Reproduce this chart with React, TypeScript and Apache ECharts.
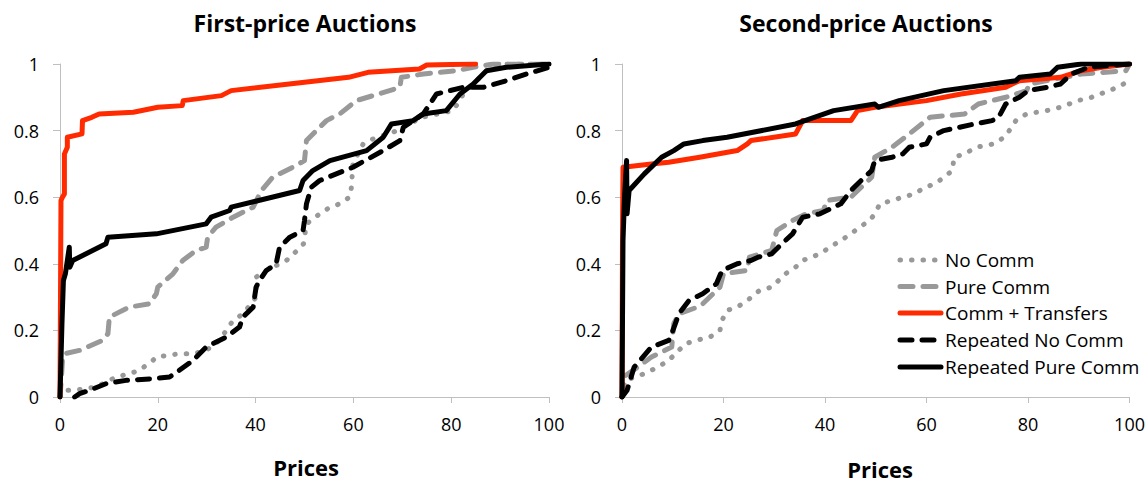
import React, { useEffect, useRef } from "react";
import * as echarts from "echarts";

// ---------- data (price, cumulative share) ----------
const legendNames = [
  "No Comm",
  "Pure Comm",
  "Comm + Transfers",
  "Repeated No Comm",
  "Repeated Pure Comm",
];
const panelTitles = ["First-price Auctions", "Second-price Auctions"];
const xAxisTitle = "Prices";

const fpNoComm = [[0,0],[1,0.02],[3,0.02],[7.4,0.03],[11.5,0.06],[14.2,0.07],[16.2,0.08],[19,0.11],[19.7,0.12],[24.4,0.13],[27.2,0.13],[29.9,0.14],[32.6,0.17],[35.4,0.23],[37.5,0.25],[40.1,0.3],[40.1,0.36],[42.2,0.38],[46.3,0.41],[47.8,0.43],[49.8,0.46],[50.4,0.52],[53.1,0.55],[55.2,0.57],[57.2,0.58],[59.2,0.6],[59.6,0.63],[59.9,0.7],[62,0.76],[64.7,0.78],[67.4,0.79],[70.2,0.81],[74,0.84],[80.4,0.86],[82.5,0.91],[83.8,0.93],[86.6,0.97],[88,0.99],[90,1],[100,1]];
const fpPureComm = [[0,0],[0.3,0.06],[0.5,0.11],[0.9,0.13],[4,0.14],[8.7,0.17],[9.8,0.19],[10.1,0.24],[14.2,0.27],[18.3,0.28],[19.7,0.31],[20,0.33],[23.1,0.37],[25.1,0.41],[27.8,0.44],[29.9,0.45],[30.2,0.48],[31.9,0.51],[35.4,0.54],[39.5,0.57],[41.2,0.62],[43.5,0.66],[47.6,0.69],[50,0.71],[50.4,0.77],[52.4,0.8],[54.5,0.83],[57.2,0.85],[60.6,0.89],[67.4,0.92],[69.5,0.93],[69.8,0.96],[74.3,0.97],[81.1,0.98],[84.5,0.99],[88.6,1],[100,1]];
const fpCommTransfers = [[0,0],[0.1,0.3],[0.2,0.59],[0.5,0.6],[0.9,0.61],[0.9,0.73],[1.5,0.75],[1.5,0.78],[4.5,0.79],[4.6,0.83],[6.5,0.84],[8,0.85],[15,0.855],[20,0.87],[25,0.875],[25.2,0.89],[33,0.905],[35,0.92],[50,0.945],[59,0.96],[63,0.975],[73.5,0.985],[75,0.997],[85,1]];
const fpRepNoComm = [[3,0],[4,0.01],[6,0.02],[9.4,0.04],[13.5,0.05],[19,0.055],[22.4,0.06],[24.4,0.08],[27.2,0.11],[29.9,0.15],[34,0.18],[36.7,0.21],[37.4,0.24],[39.5,0.27],[40.1,0.33],[40.8,0.35],[42.2,0.38],[44.2,0.4],[44.9,0.45],[47,0.48],[49.7,0.5],[50,0.53],[50.4,0.58],[51.4,0.63],[53.1,0.65],[59.9,0.69],[66.1,0.74],[69.5,0.77],[70.2,0.81],[74.3,0.85],[77,0.91],[82.5,0.93],[86.6,0.93],[91.3,0.95],[95.4,0.97],[100,0.99]];
const fpRepPureComm = [[0,0],[0.4,0.22],[0.7,0.35],[1.1,0.37],[1.9,0.45],[2,0.39],[2.6,0.41],[9.4,0.46],[9.8,0.48],[19.7,0.49],[29.9,0.52],[30.9,0.54],[34.7,0.56],[35,0.57],[49,0.62],[49.7,0.65],[51.7,0.68],[55.2,0.71],[62.7,0.74],[66.1,0.78],[67.8,0.82],[72.2,0.83],[74.3,0.85],[79,0.86],[81.8,0.91],[84.5,0.94],[87.2,0.98],[91.3,0.99],[100,1]];

const spNoComm = [[0,0],[0.7,0.05],[4.4,0.07],[7.1,0.09],[9.2,0.11],[12.5,0.16],[14.6,0.17],[17.3,0.18],[19.3,0.2],[19.7,0.23],[20.7,0.26],[22.7,0.27],[24.7,0.29],[27.1,0.32],[29.5,0.33],[32.2,0.37],[34.2,0.39],[35.6,0.41],[39,0.43],[41,0.45],[43.1,0.47],[45.1,0.49],[46.8,0.51],[48.8,0.53],[49.8,0.55],[50.8,0.58],[53.2,0.59],[55.3,0.6],[57.6,0.61],[59.7,0.63],[61.7,0.64],[63.4,0.66],[65.1,0.68],[65.4,0.72],[67.5,0.73],[69.8,0.75],[73.2,0.76],[75.3,0.78],[76.3,0.8],[77.6,0.83],[79.7,0.85],[83.7,0.86],[86.4,0.87],[89.8,0.89],[92.5,0.9],[94.2,0.91],[96.1,0.92],[98.8,0.94],[100,0.95]];
const spPureComm = [[0,0],[0.3,0.06],[3.1,0.09],[5.8,0.12],[9.8,0.15],[10.2,0.22],[11.2,0.25],[14.9,0.27],[15.9,0.28],[19.3,0.33],[20,0.37],[24.7,0.38],[25.1,0.42],[29.5,0.44],[30.5,0.5],[33.6,0.53],[36.3,0.55],[39.7,0.56],[40.3,0.59],[45.1,0.6],[47.8,0.64],[49.2,0.66],[49.8,0.72],[53.2,0.75],[56.6,0.79],[60.7,0.84],[67.5,0.85],[70.2,0.88],[75.6,0.9],[79.7,0.92],[80.3,0.94],[83.7,0.95],[90.5,0.97],[99.3,0.98],[100,1]];
const spCommTransfers = [[0,0],[0.1,0.5],[0.2,0.69],[0.3,0.69],[5.8,0.7],[9.2,0.705],[15.3,0.72],[22.7,0.74],[24.7,0.76],[25.4,0.77],[34.2,0.79],[35.6,0.83],[45.1,0.83],[46.4,0.86],[49.8,0.87],[60,0.89],[66.8,0.91],[75.6,0.93],[78.3,0.95],[86.4,0.96],[90.5,0.98],[94.6,0.99],[100,1]];
const spRepNoComm = [[0,0],[1,0.02],[2.4,0.09],[5.8,0.15],[9.2,0.17],[9.8,0.19],[11.2,0.25],[13.2,0.29],[15.9,0.31],[18.6,0.34],[19.7,0.38],[22.7,0.4],[25.4,0.41],[26.8,0.42],[29.5,0.43],[30.8,0.45],[33.6,0.49],[35.6,0.54],[39,0.55],[43.1,0.58],[45.1,0.62],[47.1,0.65],[49.2,0.68],[49.8,0.71],[53.2,0.72],[55.3,0.73],[56.6,0.75],[60,0.76],[60.7,0.78],[63.4,0.8],[69.5,0.82],[72.9,0.83],[74.2,0.84],[75.6,0.88],[78.3,0.9],[80,0.92],[83.7,0.93],[86.4,0.94],[88.5,0.97],[91.9,0.99],[100,1]];
const spRepPureComm = [[0,0],[0.2,0.47],[0.5,0.6],[0.9,0.71],[1,0.55],[1.4,0.62],[4.4,0.67],[7.8,0.72],[10.2,0.74],[12.2,0.76],[15.9,0.77],[20.7,0.78],[34.2,0.82],[41.7,0.86],[49.8,0.88],[50.5,0.87],[54.6,0.89],[63.4,0.92],[77.6,0.95],[78.3,0.96],[84.4,0.97],[85.8,0.99],[90.5,1],[100,1]];

const firstPrice = [fpNoComm, fpPureComm, fpCommTransfers, fpRepNoComm, fpRepPureComm];
const secondPrice = [spNoComm, spPureComm, spCommTransfers, spRepNoComm, spRepPureComm];

// ---------- styles ----------
const FONT = "'Open Sans', 'Liberation Sans', sans-serif";
const GRAY = "#999999";
const RED = "#FF2A00";
const AXIS = "#BFBFBF";
const styles = [
  { color: GRAY, dash: [0.5, 11], width: 5 },
  { color: GRAY, dash: [13, 10], width: 5 },
  { color: RED, dash: null, width: 5 },
  { color: "#000000", dash: [12, 10], width: 5 },
  { color: "#000000", dash: null, width: 5 },
];

const grids = [
  { left: 60, top: 64, width: 489, height: 333 },
  { left: 622, top: 64, width: 509, height: 333 },
];

export default function App() {
  const ref = useRef<HTMLDivElement>(null);
  useEffect(() => {
    document.body.style.margin = "0";
    if (!ref.current) return;
    const chart = echarts.init(ref.current, null, { renderer: "svg" });

    const xAxes = grids.map((_, i) => ({
      type: "value",
      gridIndex: i,
      min: 0,
      max: 100,
      interval: 20,
      axisLine: { show: true, lineStyle: { color: AXIS, width: 1 } },
      axisTick: { show: true, inside: false, length: 6, lineStyle: { color: AXIS } },
      axisLabel: { margin: 18, fontSize: 18, color: "#000", fontFamily: FONT },
      splitLine: { show: false },
    }));
    const yAxes = grids.map((_, i) => ({
      type: "value",
      gridIndex: i,
      min: 0,
      max: 1,
      interval: 0.2,
      axisLine: { show: true, lineStyle: { color: AXIS, width: 1 } },
      axisTick: { show: true, inside: false, length: 7, lineStyle: { color: AXIS } },
      axisLabel: { margin: 21, fontSize: 18, color: "#000", fontFamily: FONT },
      splitLine: { show: false },
    }));

    const series: any[] = [];
    [firstPrice, secondPrice].forEach((panel, p) => {
      panel.forEach((data, k) => {
        const s = styles[k];
        series.push({
          type: "line",
          name: legendNames[k],
          xAxisIndex: p,
          yAxisIndex: p,
          data,
          showSymbol: false,
          symbol: "none",
          silent: true,
          lineStyle: {
            color: s.color,
            width: s.width,
            type: s.dash ? s.dash : "solid",
            cap: "round",
            join: "round",
          },
        });
      });
    });

    const graphic: any[] = [];
    panelTitles.forEach((t, i) => {
      const cx = i === 0 ? 305 : 866;
      graphic.push({
        type: "text",
        x: cx,
        y: 23,
        style: {
          text: t,
          fontSize: 23,
          fontWeight: "bold",
          fontFamily: FONT,
          fill: "#000",
          textAlign: "center",
          textVerticalAlign: "middle",
          align: "center",
          verticalAlign: "middle",
        },
      });
      graphic.push({
        type: "text",
        x: i === 0 ? 306 : 880,
        y: i === 0 ? 467 : 469,
        style: {
          text: xAxisTitle,
          fontSize: 22,
          fontWeight: "bold",
          fontFamily: FONT,
          fill: "#000",
          textAlign: "center",
          textVerticalAlign: "middle",
          align: "center",
          verticalAlign: "middle",
        },
      });
    });
    const rowsY = [260, 286.5, 313, 340, 367];
    legendNames.forEach((name, k) => {
      const s = styles[k];
      graphic.push({
        type: "line",
        shape: { x1: 900, y1: rowsY[k], x2: 941, y2: rowsY[k] },
        style: {
          stroke: s.color,
          lineWidth: s.width,
          lineDash: s.dash ? s.dash : null,
          lineCap: "round",
        },
      });
      graphic.push({
        type: "text",
        x: 945,
        y: rowsY[k],
        style: {
          text: name,
          fontSize: 19,
          fontFamily: FONT,
          fill: "#000",
          textAlign: "left",
          textVerticalAlign: "middle",
          align: "left",
          verticalAlign: "middle",
        },
      });
    });

    chart.setOption({
      animation: false,
      backgroundColor: "#ffffff",
      grid: grids.map((g) => ({ ...g, containLabel: false })),
      xAxis: xAxes,
      yAxis: yAxes,
      series,
      graphic,
    });
    return () => chart.dispose();
  }, []);
  return <div ref={ref} style={{ width: 1148, height: 483 }} />;
}
